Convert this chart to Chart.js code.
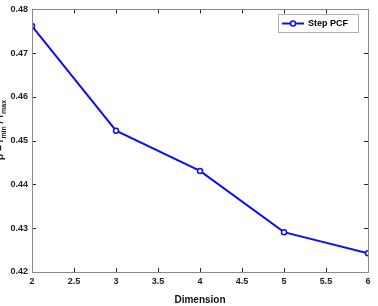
<!DOCTYPE html>
<html>
<head>
<meta charset="utf-8">
<script src="https://cdn.jsdelivr.net/npm/chart.js@4/dist/chart.umd.min.js"></script>
<style>
  html, body { margin: 0; padding: 0; background: #fff; }
  #wrap { width: 378px; height: 306px; }
</style>
</head>
<body>
<div id="wrap"><canvas id="c" width="378" height="306"></canvas></div>
<script>
// data
const dims = [2, 3, 4, 5, 6];
const stepPCF = [0.4762, 0.4523, 0.4431, 0.4291, 0.4243];
const xTicks = [2, 2.5, 3, 3.5, 4, 4.5, 5, 5.5, 6];
const yTicks = [0.42, 0.43, 0.44, 0.45, 0.46, 0.47, 0.48];

const FONT = '"Liberation Sans", Arial, sans-serif';
const BLUE = '#1010e8';

// MATLAB-ish box, inward ticks, legend and cut-off y label
const boxPlugin = {
  id: 'box',
  afterDraw(chart) {
    const ctx = chart.ctx;
    const a = chart.chartArea;
    const xs = chart.scales.x, ys = chart.scales.y;
    ctx.save();
    ctx.strokeStyle = '#262626';
    ctx.lineWidth = 1;
    ctx.beginPath();
    xTicks.forEach(v => {
      const px = Math.round(xs.getPixelForValue(v)) + 0.5;
      ctx.moveTo(px, a.bottom); ctx.lineTo(px, a.bottom - 4);
      ctx.moveTo(px, a.top); ctx.lineTo(px, a.top + 4);
    });
    yTicks.forEach(v => {
      const py = Math.round(ys.getPixelForValue(v)) + 0.5;
      ctx.moveTo(a.left, py); ctx.lineTo(a.left + 4, py);
      ctx.moveTo(a.right, py); ctx.lineTo(a.right - 4, py);
    });
    ctx.stroke();
    ctx.strokeStyle = '#8a8a8a';
    ctx.strokeRect(Math.round(a.left) + 0.5, Math.round(a.top) + 0.5,
      Math.round(a.right - a.left), Math.round(a.bottom - a.top));

    // legend
    const lx = 278, ly = 14, lw = 80, lh = 18;
    ctx.fillStyle = '#fff';
    ctx.fillRect(lx, ly, lw, lh);
    ctx.strokeStyle = '#b0b0b0';
    ctx.strokeRect(lx + 0.5, ly + 0.5, lw, lh);
    const my = ly + lh / 2 + 0.5;
    ctx.strokeStyle = BLUE;
    ctx.lineWidth = 2;
    ctx.beginPath(); ctx.moveTo(lx + 4, my); ctx.lineTo(lx + 26, my); ctx.stroke();
    ctx.lineWidth = 1.5;
    ctx.fillStyle = '#fff';
    ctx.beginPath(); ctx.arc(lx + 15, my, 2.5, 0, Math.PI * 2); ctx.fill(); ctx.stroke();
    ctx.fillStyle = '#000';
    ctx.font = 'bold 9px ' + FONT;
    ctx.textBaseline = 'middle';
    ctx.fillText('Step PCF', lx + 30, my);

    // y label (partly off the left edge, as in the original)
    ctx.translate(3, 130);
    ctx.rotate(-Math.PI / 2);
    ctx.fillStyle = '#222';
    ctx.textBaseline = 'alphabetic';
    const parts = [['\u03C1 = r', 10, 0], ['min', 7, 3], [' / r', 10, 0], ['max', 7, 3]];
    let total = 0;
    parts.forEach(p => { ctx.font = 'bold ' + p[1] + 'px ' + FONT; total += ctx.measureText(p[0]).width; });
    let x = -total / 2;
    parts.forEach(p => {
      ctx.font = 'bold ' + p[1] + 'px ' + FONT;
      ctx.fillText(p[0], x, p[2]);
      x += ctx.measureText(p[0]).width;
    });
    ctx.restore();
  }
};

new Chart(document.getElementById('c').getContext('2d'), {
  type: 'line',
  data: {
    datasets: [{
      label: 'Step PCF',
      data: dims.map((d, i) => ({ x: d, y: stepPCF[i] })),
      borderColor: BLUE,
      borderWidth: 2,
      pointRadius: 2.5,
      pointBorderWidth: 1.5,
      pointBackgroundColor: '#fff',
      pointBorderColor: BLUE,
      tension: 0
    }]
  },
  options: {
    responsive: false,
    animation: false,
    layout: { padding: { top: 7, right: 10, left: 0, bottom: 0 } },
    plugins: { legend: { display: false }, tooltip: { enabled: false } },
    scales: {
      x: {
        type: 'linear', min: 2, max: 6,
        afterBuildTicks: s => { s.ticks = xTicks.map(v => ({ value: v })); },
        grid: { display: false, drawTicks: false },
        border: { display: false },
        ticks: { color: '#222', font: { family: FONT, size: 9, weight: 'bold' }, padding: 4, maxRotation: 0, callback: v => String(v) },
        title: { display: true, text: 'Dimension', color: '#111', font: { family: FONT, size: 10, weight: 'bold' }, padding: { top: 1, bottom: 0 } },
        afterFit: s => { s.height = 34; }
      },
      y: {
        min: 0.42, max: 0.48,
        afterBuildTicks: s => { s.ticks = yTicks.map(v => ({ value: v })); },
        grid: { display: false, drawTicks: false },
        border: { display: false },
        ticks: { color: '#222', font: { family: FONT, size: 9, weight: 'bold' }, padding: 4, callback: v => v.toFixed(2) },
        afterFit: s => { s.width = 32; }
      }
    }
  },
  plugins: [boxPlugin]
});
</script>
</body>
</html>
